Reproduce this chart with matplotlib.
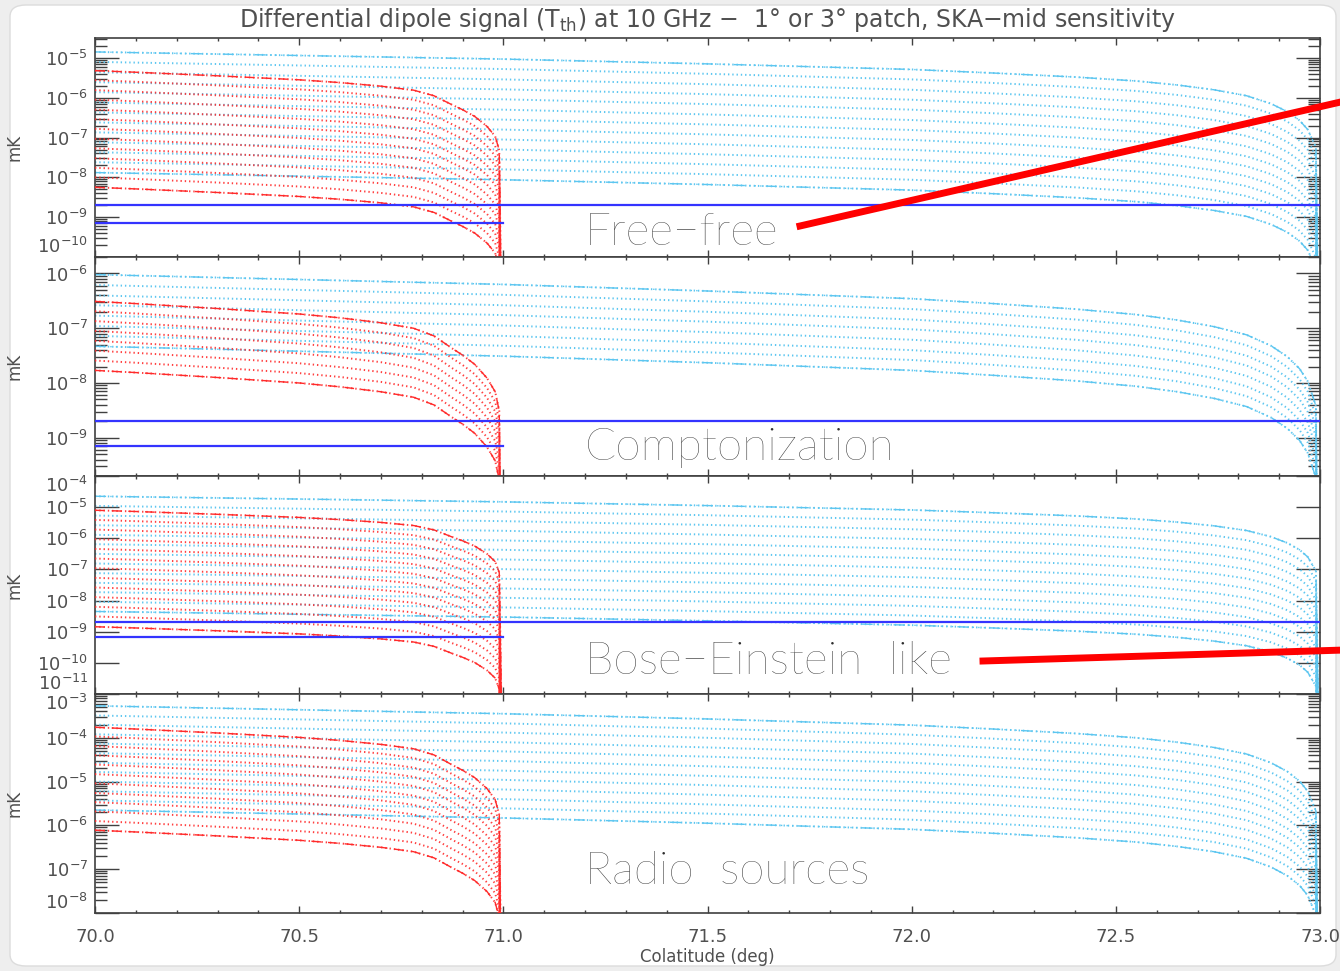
import numpy as np
import matplotlib
matplotlib.use('Agg')
import matplotlib.pyplot as plt
from matplotlib.patches import FancyBboxPatch
from matplotlib.lines import Line2D
from matplotlib.ticker import FixedLocator, LogLocator, NullLocator, NullFormatter, MultipleLocator, FormatStrFormatter

# Colatitude samples and curve shape (log10 drop from the 70 deg value)
# 1 deg patch (red)
red_x = [70.0, 70.1, 70.2, 70.3, 70.4, 70.5, 70.6, 70.7, 70.78, 70.83,
         70.875, 70.90, 70.93, 70.96, 70.98, 70.99, 71.0]
red_shape = [0.0, -0.04, -0.085, -0.13, -0.18, -0.23, -0.30, -0.39, -0.49, -0.63,
             -0.86, -0.98, -1.15, -1.40, -1.65, -2.0, -10.0]
# 3 deg patch (cyan)
cyan_x = [70.0, 70.5, 71.0, 71.5, 72.0, 72.2, 72.4, 72.55, 72.65, 72.74,
          72.82, 72.88, 72.92, 72.95, 72.97, 72.99, 73.0]
cyan_shape = [0.0, -0.09, -0.18, -0.30, -0.44, -0.53, -0.63, -0.73, -0.83, -0.95,
              -1.1, -1.3, -1.5, -1.72, -1.95, -2.4, -10.0]

# log10 of the signal at 70 deg for each curve, per distortion
ff_red = [-5.32, -5.56, -5.81, -6.05, -6.30, -6.54, -6.78, -7.03, -7.27, -7.52, -7.76, -8.00, -8.25]
ff_cyan = [-4.85, -5.10, -5.36, -5.61, -5.86, -6.12, -6.37, -6.62, -6.87, -7.12, -7.37, -7.62, -7.88]
co_red = [-6.51, -6.69, -6.87, -7.05, -7.23, -7.41, -7.59, -7.77]
co_cyan = [-6.02, -6.21, -6.40, -6.58, -6.77, -6.96, -7.14, -7.33]
be_red = [-5.10, -5.41, -5.72, -6.03, -6.34, -6.65, -6.96, -7.27, -7.58, -7.89, -8.20, -8.51, -8.84]
be_cyan = [-4.65, -4.96, -5.27, -5.58, -5.89, -6.19, -6.50, -6.81, -7.12, -7.43, -7.73, -8.04, -8.35]
rs_red = [-3.76, -3.97, -4.19, -4.40, -4.61, -4.83, -5.04, -5.26, -5.47, -5.68, -5.90, -6.11]
rs_cyan = [-3.27, -3.49, -3.70, -3.92, -4.13, -4.35, -4.57, -4.78, -5.00, -5.22, -5.43, -5.65]

# SKA-mid sensitivity (mK) for the 3 deg and 1 deg patch
sens_3deg = 2e-9
sens_1deg = 7e-10

names = ['Free\u2212free', 'Comptonization', 'Bose\u2212Einstein  like', 'Radio  sources']
reds = [ff_red, co_red, be_red, rs_red]
cyans = [ff_cyan, co_cyan, be_cyan, rs_cyan]
ylims = [(1e-10, 3.16e-5), (2e-10, 2e-6), (1e-11, 1e-4), (1e-8, 1e-3)]
yticks = [[1e-10, 1e-9, 1e-8, 1e-7, 1e-6, 1e-5],
          [1e-9, 1e-8, 1e-7, 1e-6],
          [1e-11, 1e-10, 1e-9, 1e-8, 1e-7, 1e-6, 1e-5, 1e-4],
          [1e-8, 1e-7, 1e-6, 1e-5, 1e-4, 1e-3]]
show_sens = [True, True, True, False]
minor_on = [True, True, False, True]
name_y = [0.11, 0.128, 0.15, 0.19]

RED = '#ff2a2a'
CYAN = '#5cc6f0'
BLUE = '#3434ff'
GREY = '#505050'

W, H = 1340, 971
fig = plt.figure(figsize=(W / 100, H / 100), dpi=100)
fig.patch.set_facecolor('#eeeeee')
card = FancyBboxPatch((10 / W, 1 - 966 / H), 1326 / W, 961 / H,
                      boxstyle='round,pad=0,rounding_size=0.012',
                      transform=fig.transFigure, facecolor='white',
                      edgecolor='#dcdcdc', lw=1, zorder=-10)
fig.add_artist(card)

left, right = 95 / W, 1320 / W
tops = [38, 257, 476, 694]
bots = [257, 476, 694, 913]

axes = []
for i in range(4):
    ax = fig.add_axes([left, 1 - bots[i] / H, right - left, (bots[i] - tops[i]) / H])
    axes.append(ax)
    ax.set_yscale('log')
    ax.set_xlim(70.0, 73.0)
    ax.set_ylim(*ylims[i])

    rx = np.array(red_x)
    cx = np.array(cyan_x)
    # 3 deg patch curves
    for k, a in enumerate(cyans[i]):
        yy = 10 ** (a + np.array(cyan_shape))
        ax.plot(cx, yy, color=CYAN, lw=1.4, ls=(0, (0.7, 1.5)), zorder=2)
        if k == 0 or k == len(cyans[i]) - 1:
            ax.plot(cx, yy, color=CYAN, lw=1.0, ls=(0, (8, 3, 1, 3, 1, 3, 1, 3)), zorder=2)
    # 1 deg patch curves
    for k, a in enumerate(reds[i]):
        yy = 10 ** (a + np.array(red_shape))
        ax.plot(rx, yy, color=RED, lw=1.4, ls=(0, (0.7, 1.5)), alpha=0.9, zorder=3)
        if k == 0 or k == len(reds[i]) - 1:
            ax.plot(rx, yy, color=RED, lw=1.0, ls=(0, (7, 5)), zorder=3)

    if show_sens[i]:
        ax.plot([70.0, 73.0], [sens_3deg, sens_3deg], color=BLUE, lw=1.6, zorder=4)
        ax.plot([70.0, 71.0], [sens_1deg, sens_1deg], color=BLUE, lw=1.6, zorder=4)

    ax.text(71.2, name_y[i], names[i], transform=ax.get_xaxis_transform(),
            fontsize=33, color='#2e2e2e', family=['Lato', 'DejaVu Sans'],
            fontweight='light', va='center', ha='left')

    # axes and ticks
    for sp in ax.spines.values():
        sp.set_color('#404040')
        sp.set_linewidth(1.2)
    ax.xaxis.set_major_locator(MultipleLocator(0.5))
    ax.xaxis.set_minor_locator(MultipleLocator(0.1))
    ax.xaxis.set_major_formatter(FormatStrFormatter('%.1f'))
    ax.yaxis.set_major_locator(FixedLocator(yticks[i]))
    labels = [r'$10^{%d}$' % int(round(np.log10(t))) for t in yticks[i]]
    ax.set_yticks(yticks[i], labels)
    if minor_on[i]:
        ax.yaxis.set_minor_locator(LogLocator(base=10, subs=np.arange(2, 10), numticks=50))
    else:
        ax.yaxis.set_minor_locator(NullLocator())
    ax.yaxis.set_minor_formatter(NullFormatter())
    ax.tick_params(which='both', direction='in', top=True, right=True,
                   colors='#404040', labelcolor=GREY)
    ax.tick_params(axis='y', which='major', length=17, width=1, labelsize=13, pad=5)
    ax.tick_params(axis='y', which='minor', length=8.5, width=1)
    ax.tick_params(axis='x', which='major', length=5, width=1, labelsize=13, pad=11)
    ax.tick_params(axis='x', which='minor', length=2.5, width=1)
    if i < 3:
        ax.tick_params(axis='x', labelbottom=False)

    # labels at the ends of the axis sit inside the panel
    lo, hi = ylims[i]
    for t, tick in zip(yticks[i], ax.yaxis.get_major_ticks()):
        if abs(np.log10(t) - np.log10(lo)) < 1e-3:
            tick.label1.set_va('bottom')
        elif abs(np.log10(t) - np.log10(hi)) < 1e-3:
            tick.label1.set_va('top')

    ax.set_ylabel('mK', fontsize=12, color=GREY)
    ax.yaxis.set_label_coords(-0.058, 0.5)

fig.text(707 / W, 1 - 957 / H, 'Colatitude (deg)', ha='center', va='center',
         fontsize=12, color=GREY)

fig.text(707 / W, 1 - 20 / H,
         r'Differential dipole signal (T$_{\rm th}$) at 10 GHz $-$  1$\degree$ or 3$\degree$ patch, SKA$-$mid sensitivity',
         ha='center', va='center', fontsize=17, color=GREY)

# pointer lines
fig.add_artist(Line2D([800 / W, 1345 / W], [1 - 226 / H, 1 - 101 / H],
                      transform=fig.transFigure, color='red', lw=5, zorder=10))
fig.add_artist(Line2D([983 / W, 1345 / W], [1 - 661 / H, 1 - 650 / H],
                      transform=fig.transFigure, color='red', lw=5, zorder=10))

fig.savefig('out.png', dpi=100, facecolor=fig.get_facecolor())
